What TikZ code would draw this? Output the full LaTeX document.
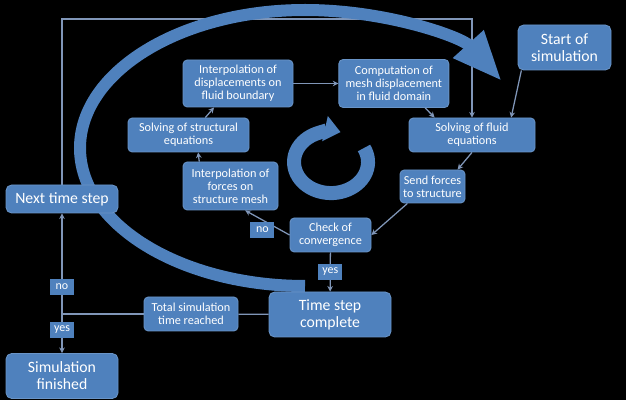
\documentclass[tikz,border=0pt]{standalone}
\usepackage{fontspec}
\setmainfont{Carlito}
\usetikzlibrary{positioning,arrows.meta,backgrounds}
\definecolor{boxblue}{HTML}{4F81BD}
\definecolor{wirecol}{HTML}{8096B8}

\begin{document}
\begin{tikzpicture}[x=0.025cm, y=-0.025cm,
    stepbox/.style={rounded corners=3pt, fill=boxblue, draw=boxblue!85!white, line width=0.6pt,
      text=white, align=center, inner sep=1pt, font=\fontsize{8.7}{9.2}\selectfont},
    bigbox/.style={stepbox, rounded corners=4pt, font=\fontsize{11.2}{12.2}\selectfont},
    tag/.style={fill=boxblue, text=white, inner sep=0pt, minimum width=0.6cm,
      minimum height=0.4cm, font=\fontsize{8.5}{9}\selectfont},
    sz/.style 2 args={minimum width=#1*0.025cm, minimum height=#2*0.025cm},
    link/.style={draw=wirecol, line width=0.9pt},
    wire/.style={link, -{Stealth[length=4pt,width=4pt]}},
    bigarrow/.style={draw=boxblue, line width=0.3cm},
  ]
  \useasboundingbox (0,0) rectangle (626,400);

  % the boxes
  \node[bigbox, sz={93}{45}] (start) at (564.5,47.5) {Start of\\simulation};
  \node[stepbox, sz={110}{47}] (idisp) at (238,83.5) {Interpolation of\\displacements on\\fluid boundary};
  \node[stepbox, sz={110}{48}, right=1.125cm of idisp] (cmesh) {Computation of\\mesh displacement\\in fluid domain};
  \node[stepbox, sz={121}{34}] (sstruct) at (188.5,135) {Solving of structural\\equations};
  \node[stepbox, sz={126}{34}] (sfluid) at (472,135) {Solving of fluid\\equations};
  \node[stepbox, sz={95}{48}] (iforce) at (230.5,186) {Interpolation of\\forces on\\structure mesh};
  \node[stepbox, sz={65}{33}] (sendf) at (432.5,186.5) {Send forces\\to structure};
  \node[stepbox, sz={81}{34}] (check) at (330.5,235) {Check of\\convergence};
  \node[tag, left=0.375cm of check.west, yshift=0.125cm] (nochk) {no};
  \node[bigbox, sz={122}{45}] (tstep) at (330,314.5) {Time step\\complete};
  \node[stepbox, sz={94}{34}] (total) at (191,314) {Total simulation\\time reached};
  \node[bigbox, sz={112}{28}] (next) at (62,199) {Next time step};
  \node[bigbox, sz={112}{45}] (simfin) at (62,376) {Simulation\\finished};
  \coordinate (jn) at (62,314);
  \coordinate (ttop) at (62,19);

  \begin{pgfonlayer}{background}
    \fill[black] (0,0) rectangle (626,400);
    % connectors
    \draw[wire] (start.208) -- (sfluid.24);
    \draw[wire] (cmesh.-38) -- (sfluid.155);
    \draw[wire] (idisp) -- (cmesh);
    \draw[wire] (sstruct.46) -- (idisp.225);
    \draw[wire] (iforce.142) -- (sstruct.-61);
    \draw[wire] (sfluid.south) -- (sendf.34);
    \draw[wire] (sendf.214) -- (check.east);
    \draw[wire] (check.west) -- (iforce.-59);
    \draw[wire] (check) -- node[tag] {yes} (tstep);
    \draw[link] (tstep) -- (total);
    \draw[link] (total) -- (jn);
    \draw[wire] (jn) -- node[tag, pos=0.27] {no} (next);
    \draw[wire] (jn) -- node[tag, pos=0.41] {yes} (simfin);
    \draw[wire] (next) -- (ttop) -| (sfluid);
    % the two loop arrows
    \draw[bigarrow, -{Triangle[length=1.25cm,width=0.95cm]}] (305,286)
      arc[start angle=90, end angle=331, x radius=225, y radius=138];
    \draw[bigarrow, line width=0.35cm, -{Triangle[length=0.4cm,width=0.62cm]}] (364,148)
      arc[start angle=-27, end angle=285, x radius=37, y radius=31];
  \end{pgfonlayer}
\end{tikzpicture}
\end{document}
